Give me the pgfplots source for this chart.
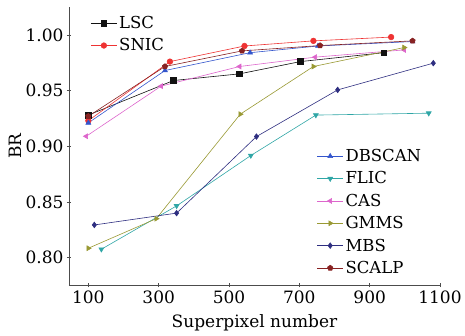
\documentclass[border=0pt]{standalone}
\usepackage{fontspec}
\setmainfont{DejaVu Serif}
\usepackage{pgfplots}
\pgfplotsset{compat=1.18}
\definecolor{cLSC}{HTML}{111111}
\definecolor{cSNIC}{HTML}{EE3333}
\definecolor{cDB}{HTML}{3355CC}
\definecolor{cFLIC}{HTML}{2FA6A6}
\definecolor{cCAS}{HTML}{DD66CC}
\definecolor{cGMMS}{HTML}{999933}
\definecolor{cMBS}{HTML}{2E2E80}
\definecolor{cSCALP}{HTML}{882222}
\begin{document}
\begin{tikzpicture}
\pgfplotsset{
  common/.style={
    scale only axis, width=371pt, height=278pt,
    xmin=45, xmax=1100, ymin=0.7755, ymax=1.025,
  },
  every axis legend/.append style={draw=none, fill=none, font=\fontsize{16.5}{19}\selectfont, row sep=4.6pt, inner sep=1pt},
  legend cell align=left,
  legend image code/.code={\draw[mark repeat=2,mark phase=2] plot coordinates {(0pt,0pt) (13pt,0pt) (26pt,0pt)};},
}
\begin{axis}[common,
  axis lines=left, axis line style={-, gray!60!black, line width=0.8pt},
  xtick={100,300,500,700,900,1100},
  ytick={0.80,0.85,0.90,0.95,1.00},
  /pgf/number format/assume math mode=true,
  xticklabel style={/pgf/number format/.cd, 1000 sep={}},
  yticklabel style={/pgf/number format/.cd, fixed, fixed zerofill, precision=2},
  tick style={gray!60!black, line width=0.6pt}, major tick length=4pt,
  tick label style={font=\fontsize{17}{19}\selectfont},
  label style={font=\fontsize{17}{19}\selectfont},
  xlabel={Superpixel number}, ylabel={BR},
  xlabel style={yshift=-4pt}, ylabel style={yshift=-3pt},
  legend style={at={(0.055,0.978)}, anchor=north west},
  every axis plot/.append style={line width=0.6pt, mark size=2.8pt},
]
\addplot[cLSC, mark=square*] coordinates {(100,0.928) (342,0.959) (530,0.965) (703,0.976) (940,0.984)};
\addlegendentry{LSC}
\addplot[cSNIC, mark=*] coordinates {(100,0.923) (332,0.976) (544,0.990) (740,0.9946) (961,0.998)};
\addlegendentry{SNIC}
\addplot[cDB, mark=triangle*, forget plot] coordinates {(100,0.921) (318,0.968) (560,0.984) (753,0.990) (1022,0.994)};
\addplot[cFLIC, mark=triangle*, mark options={rotate=180}, forget plot] coordinates {(137,0.8076) (351,0.8465) (562,0.8917) (747,0.928) (1068,0.9297)};
\addplot[cCAS, mark=triangle*, mark options={rotate=90}, forget plot] coordinates {(94,0.909) (307,0.954) (530,0.9716) (745,0.980) (998,0.9865)};
\addplot[cGMMS, mark=triangle*, mark options={rotate=-90}, forget plot] coordinates {(100,0.8085) (293,0.835) (532,0.9288) (740,0.9716) (998,0.9886)};
\addplot[cMBS, mark=diamond*, forget plot] coordinates {(117,0.8294) (351,0.840) (578,0.9087) (809,0.9506) (1081,0.9746)};
\addplot[cSCALP, mark=pentagon*, forget plot] coordinates {(100,0.927) (318,0.9716) (537,0.9856) (759,0.9904) (1022,0.9946)};
\coordinate (bbA) at (rel axis cs:0,0);
\coordinate (bbB) at (rel axis cs:1,1);
\end{axis}
\begin{axis}[common, hide axis,
  legend style={at={(0.665,0.025)}, anchor=south west},
  every axis plot/.append style={line width=0.6pt, mark size=2.8pt},
]
\addlegendimage{cDB, mark=triangle*}
\addlegendentry{DBSCAN}
\addlegendimage{cFLIC, mark=triangle*, mark options={rotate=180}}
\addlegendentry{FLIC}
\addlegendimage{cCAS, mark=triangle*, mark options={rotate=90}}
\addlegendentry{CAS}
\addlegendimage{cGMMS, mark=triangle*, mark options={rotate=-90}}
\addlegendentry{GMMS}
\addlegendimage{cMBS, mark=diamond*}
\addlegendentry{MBS}
\addlegendimage{cSCALP, mark=pentagon*}
\addlegendentry{SCALP}
\end{axis}
\pgfresetboundingbox
\path (bbA) ++(-69pt,-50pt) coordinate (cA);
\path (bbB) ++(25pt,7pt) coordinate (cB);
\path[use as bounding box] (cA) rectangle (cB);
\end{tikzpicture}
\end{document}
